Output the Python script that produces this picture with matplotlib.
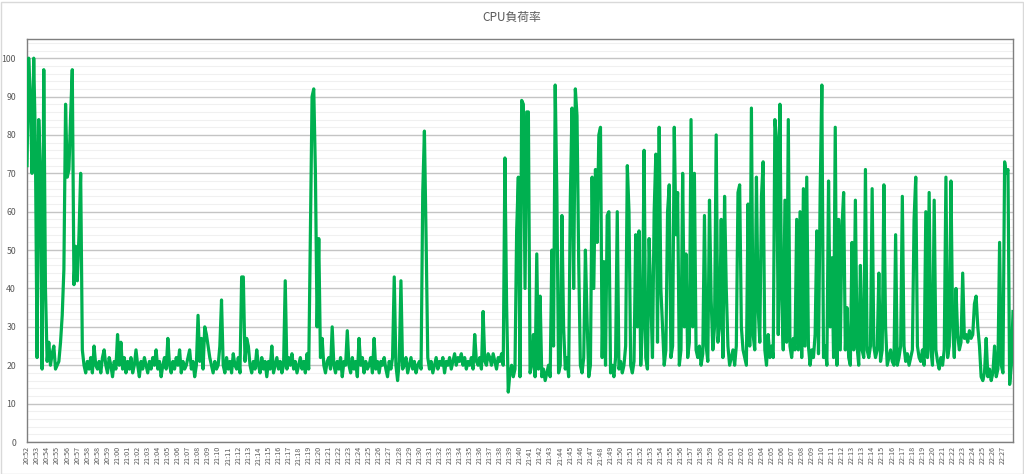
import matplotlib
matplotlib.use("Agg")
import matplotlib.pyplot as plt
from matplotlib.ticker import MultipleLocator, FixedLocator
from matplotlib.patches import Rectangle

plt.rcParams['font.family'] = ['Noto Sans CJK JP', 'DejaVu Sans']

title = "CPU負荷率"

time_labels = [
    "20:52", "20:53", "20:54", "20:55", "20:56", "20:57", "20:58", "20:58", "20:59",
    "21:00", "21:01", "21:02", "21:03", "21:04", "21:05", "21:06", "21:07", "21:08", "21:09",
    "21:10", "21:11", "21:12", "21:13", "21:14", "21:15", "21:16", "21:17", "21:18", "21:19",
    "21:20", "21:21", "21:22", "21:23", "21:24", "21:25", "21:26", "21:27", "21:28", "21:29",
    "21:30", "21:31", "21:32", "21:33", "21:34", "21:35", "21:36", "21:37", "21:38", "21:39",
    "21:40", "21:41", "21:42", "21:43", "21:44", "21:45", "21:46", "21:47", "21:48", "21:49",
    "21:50", "21:51", "21:52", "21:53", "21:54", "21:55", "21:56", "21:57", "21:58", "21:59",
    "22:00", "22:01", "22:02", "22:03", "22:04", "22:05", "22:06", "22:07", "22:08", "22:09",
    "22:10", "22:11", "22:12", "22:13", "22:13", "22:14", "22:15", "22:16", "22:17", "22:18",
    "22:19", "22:20", "22:21", "22:22", "22:23", "22:24", "22:25", "22:26", "22:27",
]

samples_per_label = 6

cpu_load = [
    72, 100, 90, 70, 100, 78,
    22, 84, 70, 19, 97, 40,
    21, 26, 20, 23, 25, 19,
    20, 21, 26, 33, 45, 88,
    69, 71, 85, 97, 41, 51,
    42, 54, 70, 24, 20, 18,
    21, 19, 22, 18, 25, 20,
    19, 21, 18, 22, 24, 20,
    18, 22, 20, 17, 21, 19,
    28, 20, 26, 19, 22, 18,
    21, 19, 22, 18, 20, 24,
    20, 17, 21, 19, 22, 20,
    18, 21, 19, 22, 20, 24,
    19, 21, 17, 20, 22, 19,
    27, 20, 18, 21, 19, 22,
    20, 24, 18, 21, 19, 20,
    22, 24, 19, 21, 17, 20,
    33, 21, 27, 19, 30, 28,
    25, 22, 20, 18, 21, 19,
    20, 25, 37, 20, 18, 22,
    19, 21, 18, 23, 20, 19,
    22, 18, 43, 43, 21, 27,
    25, 20, 18, 21, 19, 24,
    20, 18, 22, 19, 21, 17,
    21, 19, 25, 18, 20, 22,
    19, 21, 18, 20, 42, 19,
    22, 20, 23, 19, 21, 18,
    20, 22, 19, 21, 18, 23,
    19, 55, 90, 92, 70, 30,
    53, 22, 27, 20, 18, 21,
    22, 19, 30, 20, 18, 21,
    19, 22, 17, 21, 20, 29,
    20, 18, 22, 19, 21, 17,
    27, 20, 22, 18, 21, 19,
    20, 22, 18, 27, 19, 21,
    18, 21, 20, 22, 19, 17,
    21, 19, 22, 43, 20, 16,
    21, 42, 19, 20, 22, 18,
    20, 22, 19, 21, 18, 20,
    21, 19, 65, 81, 53, 22,
    19, 21, 18, 20, 22, 19,
    21, 20, 22, 18, 21, 20,
    22, 19, 21, 23, 20, 22,
    21, 23, 20, 22, 19, 21,
    20, 22, 19, 28, 21, 20,
    22, 19, 34, 21, 20, 23,
    22, 20, 23, 21, 19, 22,
    21, 23, 20, 74, 36, 13,
    18, 20, 17, 19, 55, 69,
    17, 89, 88, 40, 86, 86,
    18, 20, 28, 17, 49, 19,
    38, 17, 19, 16, 18, 20,
    17, 50, 25, 93, 64, 18,
    20, 59, 30, 19, 22, 17,
    63, 87, 40, 92, 85, 47,
    20, 18, 22, 50, 32, 17,
    20, 69, 40, 71, 52, 80,
    82, 22, 47, 20, 59, 60,
    18, 20, 17, 22, 60, 19,
    21, 18, 20, 25, 72, 60,
    20, 18, 21, 54, 30, 55,
    20, 30, 76, 22, 19, 53,
    38, 22, 60, 75, 26, 82,
    40, 30, 20, 24, 60, 67,
    22, 25, 82, 54, 65, 20,
    24, 70, 30, 49, 22, 26,
    84, 30, 70, 24, 22, 25,
    20, 23, 59, 25, 21, 63,
    37, 24, 30, 80, 26, 30,
    58, 22, 64, 40, 25, 20,
    22, 24, 20, 25, 65, 67,
    30, 24, 22, 20, 62, 25,
    87, 28, 24, 69, 35, 26,
    64, 73, 24, 20, 28, 22,
    25, 22, 84, 79, 28, 88,
    38, 24, 63, 26, 84, 25,
    22, 27, 24, 58, 24, 60,
    22, 66, 25, 69, 25, 20,
    24, 22, 28, 55, 23, 65,
    93, 22, 25, 20, 68, 30,
    48, 22, 82, 20, 58, 24,
    56, 65, 24, 35, 22, 20,
    52, 24, 63, 25, 20, 46,
    24, 22, 71, 24, 22, 25,
    66, 25, 22, 24, 44, 21,
    24, 67, 30, 20, 22, 24,
    21, 20, 54, 20, 22, 25,
    64, 25, 21, 23, 20, 22,
    24, 58, 69, 25, 22, 21,
    24, 20, 60, 22, 65, 24,
    20, 63, 24, 21, 19, 22,
    20, 24, 69, 22, 25, 68,
    30, 22, 40, 28, 24, 26,
    44, 27, 28, 26, 29, 27,
    28, 36, 38, 30, 25, 17,
    16, 18, 27, 17, 19, 16,
    18, 25, 17, 19, 52, 20,
    18, 73, 70, 71, 15, 20,
    34,
]

W, H = 1024, 474
fig = plt.figure(figsize=(W / 100, H / 100), dpi=100)
fig.patch.set_facecolor("white")
fig.add_artist(Rectangle((0.5 / W, 0.5 / H), 1 - 2 / W, 1 - 2 / H,
                         transform=fig.transFigure, fill=False,
                         edgecolor="#d9d9d9", lw=1.0))

ax = fig.add_axes([27 / W, 32 / H, 986 / W, 403 / H])
x = list(range(len(cpu_load)))
ax.plot(x, cpu_load, color="#00b050", lw=2.3, solid_joinstyle="round", zorder=3)

ax.set_xlim(0, len(cpu_load) - 1)
ax.set_ylim(0, 105)

ax.yaxis.set_major_locator(FixedLocator(list(range(0, 101, 10))))
ax.yaxis.set_minor_locator(MultipleLocator(2))
ax.grid(which="major", axis="y", color="#c4c4c4", lw=1.0, zorder=1)
ax.grid(which="minor", axis="y", color="#f0f0f0", lw=0.8, zorder=0)

tick_pos = [i * samples_per_label for i in range(len(time_labels))]
ax.set_xticks(tick_pos)
ax.set_xticklabels(time_labels, rotation=90, fontsize=5.2, color="#595959")
ax.tick_params(axis="x", length=0, pad=3)
ax.tick_params(axis="y", which="both", length=0, pad=8, labelsize=6.3, labelcolor="#595959")

for side in ["left", "bottom", "top", "right"]:
    ax.spines[side].set_color("#7f7f7f")
    ax.spines[side].set_linewidth(1.0)

fig.text(0.5, 1 - 17 / H, title, ha="center", va="center", fontsize=8.5, color="#595959")

fig.savefig("out.png", dpi=100, facecolor="white")
